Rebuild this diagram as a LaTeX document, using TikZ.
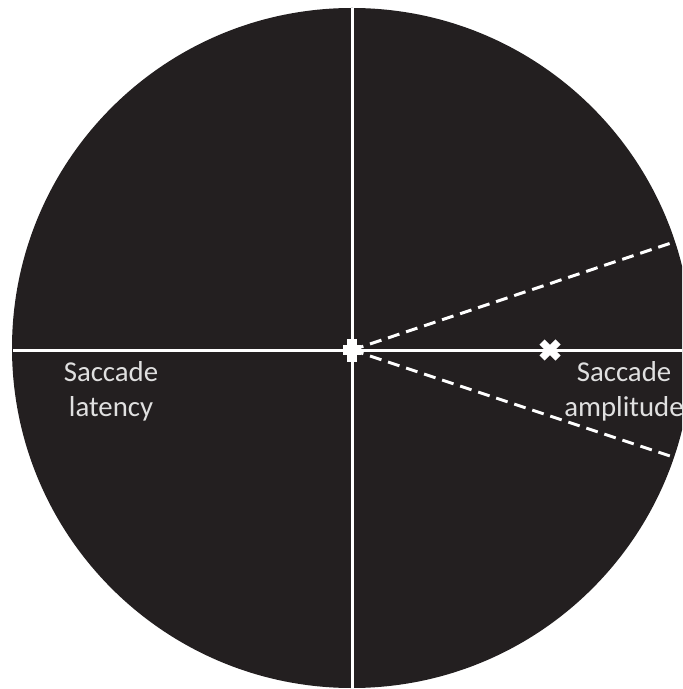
\documentclass[tikz,border=0pt]{standalone}
\usepackage{fontspec}
\setmainfont{Carlito}
\begin{document}
\begin{tikzpicture}[x=0.5pt,y=-0.5pt,
  guide/.style={white,line width=1.5pt},
  sector/.style={white,line width=1.5pt,dash pattern=on 6pt off 3.5pt},
  label/.style={text=white!88!black,font=\fontsize{14.4pt}{17.5pt}\selectfont,align=center,inner sep=0pt}]
\useasboundingbox (0,0) rectangle (682,689);
\clip (0,0) rectangle (682,689);
\fill[white] (0,0) rectangle (682,689);
% visual field disc
\fill[fill={rgb,255:red,35;green,31;blue,32}] (352,348) circle[radius=170pt];
% reference points
\coordinate (c) at (352,350);
\coordinate (top) at (352,8);
\coordinate (bot) at (352,689);
\coordinate (left) at (13,350);
\coordinate (right) at (682,350);
\coordinate (up) at (674,242);
\coordinate (dn) at (673,457);
% meridians
\draw[guide] (top) -- (bot);
\draw[guide] (left) -- (right);
% amplitude sector
\draw[sector] (c) -- (up);
\draw[sector] (c) -- (dn);
% fixation cross
\fill[white] (343,345) rectangle (361,355);
\fill[white] (347,339) rectangle (357,362);
% target
\coordinate (t) at (550,350);
\draw[white,line width=3.6pt] ([shift={(-8,-8)}]t) -- ([shift={(8,8)}]t);
\draw[white,line width=3.6pt] ([shift={(-8,8)}]t) -- ([shift={(8,-8)}]t);
% labels
\node[label] (lat) at (111,391) {Saccade\\latency};
\node[label] (amp) at (624,391) {Saccade\\amplitude};
\end{tikzpicture}
\end{document}
